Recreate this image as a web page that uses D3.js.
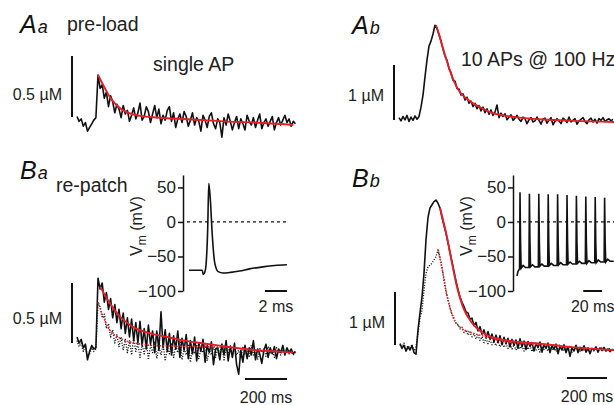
<!DOCTYPE html>
<html>
<head>
<meta charset="utf-8">
<script src="https://cdn.jsdelivr.net/npm/d3@7"></script>
<style>
    body { margin: 0; background: #fff; }
    svg { display: block; font-family: "Liberation Sans", Arial, sans-serif; }
    .trace { fill: none; stroke: #111; stroke-width: 1.6; stroke-linejoin: round; }
    .trace.dotted { stroke-dasharray: 1, 1.6; stroke-width: 1.4; }
    .fit { fill: none; stroke: #e3202a; stroke-width: 1.9; }
    .fit.dotted { stroke-dasharray: 1.6, 1.4; stroke-width: 1.5; }
    .bar { stroke: #111; stroke-width: 2; }
    .lbl { font-size: 16px; fill: #222; }
    .title { font-size: 19.5px; fill: #222; }
    .vm { fill: none; stroke: #111; stroke-width: 1.6; }
    .zero { stroke: #111; stroke-width: 1.3; stroke-dasharray: 3, 3; }
</style>
</head>
<body>
<div id="figure"></div>
<script>

// sampled Ca traces, one value every 10 ms (µM)
var dt = 10;

var aaCa = [0.07, 0.03, 0.05, -0.01, 0.02, -0.05, -0.02, 0.01, 0.04, 0.06,
    0.41, 0.30, 0.33, 0.22, 0.27, 0.15, 0.24, 0.19, 0.10, 0.17,
    0.13, 0.06, 0.16, 0.09, 0.12, 0.03, 0.08, 0.14, 0.05, 0.10,
    0.18, 0.04, 0.07, 0.15, 0.11, 0.02, 0.09, 0.16, 0.06, 0.13,
    0.01, 0.08, 0.04, 0.12, 0.15, 0.03, 0.10, -0.02, 0.05, 0.09,
    0.02, 0.11, 0.07, -0.01, 0.04, 0.10, 0.00, 0.06, 0.03, -0.05,
    0.08, 0.04, -0.02, 0.07, 0.10, 0.01, -0.03, 0.05, 0.02, -0.10,
    0.06, 0.00, 0.09, 0.03, -0.04, 0.02, 0.07, -0.03, 0.05, 0.01,
    -0.04, 0.08, 0.03, 0.00, 0.06, -0.02, 0.04, 0.09, -0.03, 0.02,
    0.05, -0.01, 0.03, 0.07, -0.04, 0.02, 0.06, 0.00, 0.04, 0.08,
    0.02, 0.05, -0.01, 0.03, 0.01];
var aaFit = [[100, 0.41], [130, 0.31], [160, 0.22], [190, 0.16], [220, 0.12], [260, 0.09],
    [300, 0.075], [350, 0.065], [430, 0.055], [550, 0.045], [700, 0.03], [850, 0.02], [1030, 0.0]];

var abCa = [0.08, 0.02, 0.10, 0.04, 0.12, 0.01, 0.09, 0.03, 0.11, 0.05,
    0.10, 0.27, 0.49, 0.82, 1.13, 1.38, 1.47, 1.60, 1.76, 1.70,
    1.58, 1.47, 1.33, 1.20, 1.12, 0.97, 0.90, 0.76, 0.74, 0.61,
    0.60, 0.49, 0.51, 0.40, 0.45, 0.34, 0.38, 0.28, 0.34, 0.24,
    0.30, 0.20, 0.27, 0.17, 0.24, 0.14, 0.22, 0.12, 0.18, 0.31,
    0.08, 0.16, 0.10, 0.15, 0.04, 0.09, 0.13, 0.03, 0.07, 0.12,
    0.05, 0.01, 0.09, 0.06, -0.03, 0.04, 0.08, 0.00, 0.02, 0.09,
    0.03, -0.04, 0.05, 0.07, -0.02, 0.03, 0.08, -0.05, 0.01, 0.06,
    0.02, -0.03, 0.07, 0.04, -0.01, 0.09, 0.00, 0.03, 0.06, -0.04,
    0.02, 0.05, 0.08, 0.01, -0.03, 0.04, 0.07, 0.00, 0.05, -0.02,
    0.06, 0.03, 0.08, 0.01, 0.04, 0.06, 0.02, 0.05];
var abFit = [[185, 1.76], [200, 1.60], [215, 1.40], [240, 1.10], [260, 0.88], [275, 0.74],
    [305, 0.54], [340, 0.42], [375, 0.33], [420, 0.24], [455, 0.18], [520, 0.12],
    [625, 0.07], [750, 0.04], [875, 0.02], [1075, 0.0]];

var baCa = [0.15, 0.10, 0.13, 0.06, 0.09, -0.04, 0.03, 0.08, 0.05, 0.06,
    0.64, 0.55, 0.60, 0.44, 0.52, 0.38, 0.47, 0.31, 0.42, 0.27,
    0.38, 0.22, 0.35, 0.18, 0.31, 0.15, 0.30, 0.12, 0.27, 0.10,
    0.28, 0.08, 0.22, 0.05, 0.25, 0.09, 0.20, 0.02, 0.20, 0.04,
    0.36, 0.06, 0.21, 0.03, 0.18, 0.00, 0.16, 0.05, 0.20, -0.02,
    0.14, 0.04, 0.17, -0.03, 0.12, 0.01, 0.15, -0.05, 0.10, 0.03,
    0.13, -0.06, 0.08, 0.02, 0.11, -0.08, 0.05, 0.06, -0.04, 0.09,
    0.00, 0.12, -0.05, 0.07, -0.02, 0.10, -0.08, -0.16, 0.04, -0.06,
    0.08, -0.03, 0.06, 0.00, 0.12, -0.04, 0.05, 0.01, -0.07, 0.04,
    0.09, -0.02, 0.06, 0.01, 0.07, -0.03, 0.05, 0.02, 0.08, 0.00,
    0.06, 0.02, 0.05, 0.01, 0.03];
var baCaDotted = [0.12, 0.07, 0.10, 0.03, 0.08, -0.02, 0.01, 0.06, 0.03, 0.05,
    0.44, 0.40, 0.31, 0.34, 0.22, 0.26, 0.15, 0.21, 0.10, 0.17,
    0.07, 0.15, 0.04, 0.13, 0.02, 0.12, 0.00, 0.14, 0.03, 0.10,
    -0.02, 0.09, 0.01, 0.12, -0.04, 0.08, 0.02, 0.11, -0.03, 0.07,
    0.00, 0.09, -0.05, 0.06, 0.01, 0.10, -0.02, 0.07, 0.02, 0.12,
    -0.04, 0.05, 0.00, 0.09, -0.06, 0.06, 0.01, 0.08, -0.03, 0.05,
    0.02, 0.10, -0.05, 0.04, 0.00, 0.07, -0.02, 0.06, 0.01, 0.09,
    -0.04, 0.05, 0.02, 0.08, -0.01, 0.06, 0.00, 0.04, -0.03, 0.07,
    0.01, 0.05, -0.02, 0.08, 0.00, 0.04, -0.04, 0.06, 0.02, 0.05,
    -0.01, 0.07, 0.01, 0.04, -0.02, 0.06, 0.03, 0.00, 0.05, 0.02,
    0.04, 0.01, 0.03, 0.00, 0.02];
var baFit = [[110, 0.57], [150, 0.45], [190, 0.35], [230, 0.28], [270, 0.23], [350, 0.18],
    [430, 0.15], [510, 0.12], [590, 0.10], [670, 0.08], [750, 0.06], [850, 0.04],
    [950, 0.03], [1030, 0.02]];
var baFitDotted = [[100, 0.44], [125, 0.32], [148, 0.23], [170, 0.18], [195, 0.15], [230, 0.12],
    [262, 0.105], [310, 0.09], [357, 0.08], [430, 0.075], [505, 0.072], [600, 0.07], [700, 0.065]];

var bbCa = [0.12, 0.03, 0.09, -0.02, 0.06, 0.00, 0.08, -0.05, -0.08, 0.38,
    0.70, 1.00, 1.45, 2.08, 2.50, 2.68, 2.74, 2.80, 2.83, 2.77,
    2.68, 2.50, 2.35, 2.20, 2.02, 1.84, 1.66, 1.48, 1.30, 1.14,
    1.00, 0.90, 0.82, 0.72, 0.70, 0.58, 0.60, 0.46, 0.52, 0.36,
    0.44, 0.30, 0.38, 0.24, 0.35, 0.21, 0.30, 0.15, 0.28, 0.14,
    0.27, 0.10, 0.24, 0.12, 0.22, 0.06, 0.20, 0.09, 0.19, 0.03,
    0.21, 0.06, 0.17, 0.01, 0.16, 0.07, 0.14, -0.02, 0.12, 0.05,
    0.15, -0.04, 0.10, 0.03, 0.13, -0.05, 0.09, 0.01, 0.11, -0.07,
    0.07, 0.00, 0.10, -0.05, 0.06, -0.12, 0.04, -0.02, 0.09, -0.05,
    0.05, -0.01, 0.08, -0.04, 0.04, -0.07, 0.03, 0.00, 0.06, -0.04,
    0.04, -0.01, 0.05, -0.02, 0.02, -0.03, 0.01, 0.00];
var bbCaDotted = [0.10, 0.05, 0.13, 0.00, 0.08, 0.03, 0.11, -0.02, 0.06, 0.32,
    0.60, 0.75, 1.13, 1.45, 1.57, 1.60, 1.64, 1.70, 1.76, 1.89,
    1.75, 1.56, 1.30, 1.10, 0.95, 0.80, 0.68, 0.60, 0.50, 0.48,
    0.40, 0.43, 0.33, 0.38, 0.28, 0.34, 0.25, 0.30, 0.21, 0.28,
    0.18, 0.25, 0.14, 0.22, 0.12, 0.20, 0.10, 0.17, 0.08, 0.16,
    0.06, 0.14, 0.05, 0.12, 0.03, 0.11, 0.02, 0.10, 0.00, 0.09,
    0.02, 0.08, -0.02, 0.07, 0.01, 0.08, -0.03, 0.06, 0.00, 0.05,
    -0.04, 0.07, 0.01, 0.04, -0.02, 0.06, 0.00, 0.05, -0.03, 0.04,
    0.01, 0.06, -0.02, 0.03, 0.00, 0.05, -0.04, 0.03, 0.01, 0.04,
    -0.02, 0.03, 0.00, 0.05, -0.01, 0.02, 0.04, -0.02, 0.03, 0.00,
    0.02, 0.04, -0.01, 0.02, 0.00, 0.03, -0.01, 0.01];
var bbFit = [[200, 2.68], [235, 2.13], [260, 1.64], [285, 1.19], [315, 0.81], [360, 0.51],
    [415, 0.32], [515, 0.19], [600, 0.15], [700, 0.12], [870, 0.05], [1070, 0.0]];
var bbFitDotted = [[190, 1.89], [215, 1.45], [240, 0.94], [265, 0.62], [300, 0.43], [365, 0.32],
    [450, 0.23], [535, 0.15], [650, 0.11], [800, 0.09]];

// membrane potential insets: [ms, mV]
var singleAP = [[0, -70], [1.2, -70], [1.3, -76], [1.45, -72], [1.55, -62], [1.7, -10], [1.8, 56],
    [1.95, 30], [2.1, -15], [2.35, -60], [2.65, -72], [3.1, -74], [3.8, -73], [4.6, -71],
    [5.5, -68], [6.7, -65], [7.8, -63], [8.9, -62]];
var apTrain = [[0, -78], [1, -72], [2.7, -68],
    [3.2, 43], [3.8, -30], [4.4, -67], [6.5, -63], [9, -66], [12.7, -66],
    [13.2, 41], [13.8, -30], [14.4, -65], [16.5, -62], [19, -65], [22.7, -65],
    [23.2, 41], [23.8, -30], [24.4, -64], [26.5, -61], [29, -64], [32.7, -64],
    [33.2, 40], [33.8, -30], [34.4, -63], [36.5, -60], [39, -63], [42.7, -63],
    [43.2, 40], [43.8, -30], [44.4, -62], [46.5, -59], [49, -62], [52.7, -62],
    [53.2, 39], [53.8, -30], [54.4, -61], [56.5, -58], [59, -61], [62.7, -61],
    [63.2, 38], [63.8, -30], [64.4, -60], [66.5, -57], [69, -60], [72.7, -60],
    [73.2, 37], [73.8, -30], [74.4, -60], [76.5, -56], [79, -59], [82.7, -59],
    [83.2, 36], [83.8, -30], [84.4, -59], [86.5, -55], [89, -58], [92.7, -58],
    [93.2, 35], [93.8, -30], [94.4, -58], [96.5, -54], [99, -57], [103, -57]];
var vmTicks = [50, 0, -50, -100];

var svg = d3.select("#figure").append("svg")
    .attr("width", 614)
    .attr("height", 405);

/**
 * One Ca trace panel with its fits and scale bars
 */
function TracePanel(opts) {
    var self = this;
    self.opts = opts;
    self.init();
}

TracePanel.prototype.init = function () {
    var self = this;
    var o = self.opts;
    self.x = d3.scaleLinear().domain([0, o.tMax]).range([o.left, o.right]);
    self.y = d3.scaleLinear().domain([0, o.barUnit]).range([o.zeroY, o.zeroY - o.barPx]);
    self.g = svg.append("g");
};

TracePanel.prototype.update = function () {
    var self = this;
    var o = self.opts;

    var sampled = d3.line()
        .x(function (d, i) { return self.x(i * dt); })
        .y(function (d) { return self.y(d); });
    var smooth = d3.line()
        .x(function (d) { return self.x(d[0]); })
        .y(function (d) { return self.y(d[1]); })
        .curve(d3.curveMonotoneX);

    if (o.dotted) {
        self.g.append("path").attr("class", "trace dotted").attr("d", sampled(o.dotted));
    }
    self.g.append("path").attr("class", "trace").attr("d", sampled(o.trace));
    if (o.fitDotted) {
        self.g.append("path").attr("class", "fit dotted").attr("d", smooth(o.fitDotted));
    }
    self.g.append("path").attr("class", "fit").attr("d", smooth(o.fit));

    // vertical concentration bar
    var bx = self.x(0) - 5;
    self.g.append("line").attr("class", "bar")
        .attr("x1", bx).attr("x2", bx)
        .attr("y1", self.y(o.barBase)).attr("y2", self.y(o.barBase + o.barUnit));
    self.g.append("text").attr("class", "lbl")
        .attr("x", bx - 10).attr("y", o.barLabelY)
        .attr("text-anchor", "end")
        .text(o.barLabel);

    // 200 ms bar
    if (o.timeBarY) {
        self.g.append("line").attr("class", "bar")
            .attr("x1", self.x(o.timeBarAt)).attr("x2", self.x(o.timeBarAt + 200))
            .attr("y1", o.timeBarY).attr("y2", o.timeBarY);
        self.g.append("text").attr("class", "lbl")
            .attr("x", self.x(o.timeBarAt + 100)).attr("y", o.timeBarY + 24)
            .attr("text-anchor", "middle")
            .text("200 ms");
    }
};

/**
 * Vm inset: axis with ticks, dashed 0 mV line, trace and time bar
 */
function drawInset(o) {
    var g = svg.append("g");
    var x = d3.scaleLinear().domain([0, 1]).range([o.left, o.left + o.pxPerMs]);
    var v = d3.scaleLinear().domain([-100, 68]).range([291, 175]);

    var axis = d3.axisLeft(v).tickValues(vmTicks).tickSize(5).tickPadding(2).tickSizeOuter(0);
    var ax = g.append("g").attr("transform", "translate(" + o.axisX + ",0)").call(axis);
    ax.selectAll("path, line").attr("stroke", "#111").attr("stroke-width", 1.5);
    ax.selectAll("text").attr("font-size", 17).attr("font-family", null).attr("fill", "#222");

    g.append("line").attr("class", "zero")
        .attr("x1", o.axisX + 4).attr("x2", o.zeroEnd)
        .attr("y1", v(0)).attr("y2", v(0));

    var line = d3.line()
        .x(function (d) { return x(d[0]); })
        .y(function (d) { return v(d[1]); });
    if (o.smooth) line.curve(d3.curveMonotoneX);
    g.append("path").attr("class", "vm").attr("d", line(o.data));

    var lab = g.append("text").attr("class", "lbl")
        .attr("transform", "translate(" + o.labelX + ",226) rotate(-90)")
        .attr("text-anchor", "middle");
    lab.append("tspan").text("V");
    lab.append("tspan").attr("dy", 4).attr("font-size", 12).text("m");
    lab.append("tspan").attr("dy", -4).text(" (mV)");

    g.append("line").attr("class", "bar")
        .attr("x1", x(o.barAt)).attr("x2", x(o.barAt + o.barMs))
        .attr("y1", 291).attr("y2", 291);
    g.append("text").attr("class", "lbl")
        .attr("x", x(o.barAt + o.barMs / 2)).attr("y", 312)
        .attr("text-anchor", "middle")
        .text(o.barMs + " ms");
}

function panelLetter(x, y, big, small) {
    var t = svg.append("text").attr("x", x).attr("y", y)
        .attr("font-style", "italic").attr("fill", "#111");
    t.append("tspan").attr("font-size", 25).text(big);
    t.append("tspan").attr("font-size", 18).attr("dx", 1).text(small);
}

function title(x, y, s) {
    svg.append("text").attr("class", "title").attr("x", x).attr("y", y).text(s);
}

new TracePanel({
    trace: aaCa, fit: aaFit, tMax: 1040, left: 77, right: 295.4,
    zeroY: 125, barUnit: 0.5, barPx: 61, barBase: 0.066,
    barLabel: "0.5 µM", barLabelY: 100
}).update();

new TracePanel({
    trace: abCa, fit: abFit, tMax: 1075, left: 399, right: 614,
    zeroY: 122, barUnit: 1, barPx: 55, barBase: 0.036,
    barLabel: "1 µM", barLabelY: 101
}).update();

new TracePanel({
    trace: baCa, dotted: baCaDotted, fit: baFit, fitDotted: baFitDotted,
    tMax: 1040, left: 77, right: 295.4,
    zeroY: 355, barUnit: 0.5, barPx: 60, barBase: 0.1,
    barLabel: "0.5 µM", barLabelY: 324,
    timeBarAt: 800, timeBarY: 379
}).update();

new TracePanel({
    trace: bbCa, dotted: bbCaDotted, fit: bbFit, fitDotted: bbFitDotted,
    tMax: 1070, left: 400, right: 614,
    zeroY: 350, barUnit: 1, barPx: 53, barBase: 0.094,
    barLabel: "1 µM", barLabelY: 328,
    timeBarAt: 835, timeBarY: 378
}).update();

drawInset({ axisX: 183, left: 189, pxPerMs: 11, zeroEnd: 287, data: singleAP, smooth: true,
    labelX: 142, barAt: 6.9, barMs: 2 });
drawInset({ axisX: 513, left: 517, pxPerMs: 0.94, zeroEnd: 614, data: apTrain, smooth: false,
    labelX: 472, barAt: 70.5, barMs: 20 });

panelLetter(20, 33, "A", "a");
panelLetter(352, 34, "A", "b");
panelLetter(20, 179, "B", "a");
panelLetter(352, 187, "B", "b");

title(67, 31, "pre-load");
title(153, 71, "single AP");
title(461, 66, "10 APs @ 100 Hz");
title(56, 192, "re-patch");

</script>
</body>
</html>
